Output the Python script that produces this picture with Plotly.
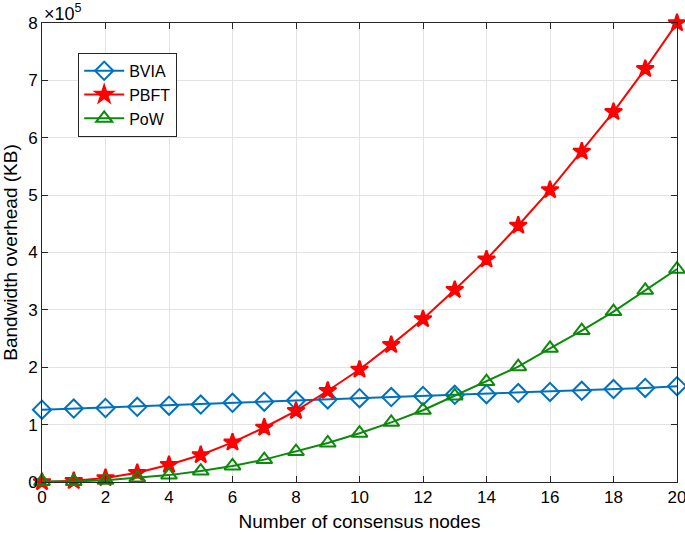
import plotly.graph_objects as go

nodes = list(range(0, 21))
bvia = [1.26, 1.28, 1.29, 1.31, 1.33, 1.35, 1.38, 1.40, 1.42, 1.44, 1.46,
        1.48, 1.50, 1.52, 1.53, 1.55, 1.57, 1.59, 1.62, 1.64, 1.67]
pbft = [0.00, 0.02, 0.07, 0.16, 0.30, 0.47, 0.69, 0.95, 1.24, 1.59, 1.96,
        2.39, 2.84, 3.35, 3.88, 4.47, 5.09, 5.76, 6.45, 7.20, 8.00]
pow_ = [0.01, 0.01, 0.03, 0.07, 0.12, 0.19, 0.28, 0.39, 0.53, 0.68, 0.85,
        1.04, 1.25, 1.50, 1.75, 2.01, 2.33, 2.64, 2.97, 3.34, 3.71]
scale = 1e5
yticks = list(range(0, 9))
xticks = list(range(0, 21, 2))

series = [
    ("BVIA", bvia, "#0072BD", "diamond-open", 14),
    ("PBFT", pbft, "#FF0000", "star", 13),
    ("PoW", pow_, "#0B8A0B", "triangle-up-open", 14),
]

FONT = "Liberation Sans, Arial"

fig = go.Figure()
for name, vals, color, sym, size in series:
    fig.add_trace(go.Scatter(
        x=nodes, y=[v * scale for v in vals], name=name, mode="lines+markers",
        line=dict(color=color, width=2),
        marker=dict(symbol=sym, size=size, color=color,
                    line=dict(color=color, width=2)),
        cliponaxis=False,
    ))

axis_common = dict(
    showline=True, linecolor="#262626", linewidth=1, mirror="ticks",
    ticks="inside", ticklen=6, tickcolor="#262626",
    showgrid=True, gridcolor="#E3E3E3", gridwidth=1, zeroline=False,
    tickfont=dict(family=FONT, size=17, color="#000000"),
    ticklabeloverflow="allow", automargin=False,
)

fig.update_xaxes(range=[0, 20], tickvals=xticks,
                 title=dict(text="Number of consensus nodes",
                            font=dict(family=FONT, size=19, color="#000"),
                            standoff=8),
                 **axis_common)
fig.update_yaxes(range=[0, 8 * scale], tickvals=[t * scale for t in yticks],
                 ticktext=[str(t) for t in yticks],
                 title=dict(text="Bandwidth overhead (KB)",
                            font=dict(family=FONT, size=19, color="#000"),
                            standoff=6),
                 **axis_common)

fig.add_annotation(xref="paper", yref="paper", x=0, y=1, xanchor="left", yanchor="bottom",
                   text="×10<sup>5</sup>", showarrow=False, yshift=-3, xshift=0,
                   font=dict(family=FONT, size=18, color="#000"))

fig.update_layout(
    width=685, height=535,
    margin=dict(l=42, r=8, t=23, b=53),
    plot_bgcolor="white", paper_bgcolor="white",
    font=dict(family=FONT, size=16, color="#000"),
    legend=dict(x=0.057, y=0.935, xanchor="left", yanchor="top",
                bgcolor="white", bordercolor="#262626", borderwidth=1,
                font=dict(family=FONT, size=16), itemwidth=40, tracegroupgap=0),
    showlegend=True,
)

fig.write_html("out.html")
